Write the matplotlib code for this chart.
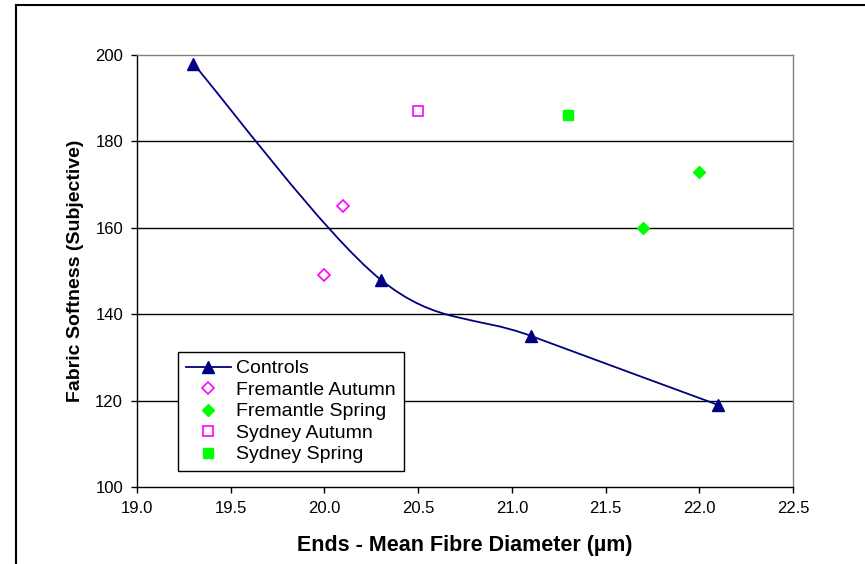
import matplotlib
matplotlib.use("Agg")
import matplotlib.pyplot as plt
from matplotlib.path import Path
from matplotlib.patches import PathPatch
from matplotlib.lines import Line2D
import numpy as np

plt.rcParams['font.family'] = ['Liberation Sans', 'DejaVu Sans']

# Data
controls_x = [19.3, 20.3, 21.1, 22.1]
controls_y = [198, 148, 135, 119]
fa_x = [20.0, 20.1]
fa_y = [149, 165]
fs_x = [21.7, 22.0]
fs_y = [160, 173]
sa_x = [20.5]
sa_y = [187]
ss_x = [21.3]
ss_y = [186]
x_ticks = [19.0, 19.5, 20.0, 20.5, 21.0, 21.5, 22.0, 22.5]
y_ticks = [100, 120, 140, 160, 180, 200]

navy = '#000080'
magenta = '#FF00FF'
green = '#00FF00'

W, H = 865, 564
fig = plt.figure(figsize=(W/100, H/100), dpi=100)
L, R, T, B = 137, 793, 55, 487
ax = fig.add_axes([L/W, 1-B/H, (R-L)/W, (B-T)/H])

# smoothed controls line (Excel-style Bezier)
pts = np.column_stack([controls_x, controls_y]).astype(float)
verts = [tuple(pts[0])]
codes = [Path.MOVETO]
n = len(pts)
for i in range(n-1):
    p0 = pts[i-1] if i > 0 else pts[i]
    p1 = pts[i]
    p2 = pts[i+1]
    p3 = pts[i+2] if i+2 < n else pts[i+1]
    c1 = p1 + (p2 - p0) / 6.0
    c2 = p2 - (p3 - p1) / 6.0
    verts += [tuple(c1), tuple(c2), tuple(p2)]
    codes += [Path.CURVE4]*3
ax.add_patch(PathPatch(Path(verts, codes), facecolor='none', edgecolor=navy, lw=1.3, zorder=3))
ax.plot(controls_x, controls_y, linestyle='none', marker='^', color=navy, ms=8, zorder=4)

ax.plot(fa_x, fa_y, linestyle='none', marker='D', mfc='white', mec=magenta, mew=1.2, ms=6, zorder=4)
ax.plot(fs_x, fs_y, linestyle='none', marker='D', color=green, ms=6, zorder=4)
ax.plot(sa_x, sa_y, linestyle='none', marker='s', mfc='white', mec=magenta, mew=1.2, ms=7, zorder=4)
ax.plot(ss_x, ss_y, linestyle='none', marker='s', color=green, ms=7, zorder=4)

ax.set_xlim(19.0, 22.5)
ax.set_ylim(100, 200)
ax.set_xticks(x_ticks)
ax.set_xticklabels([f"{v:.1f}" for v in x_ticks])
ax.set_yticks(y_ticks)
ax.set_yticklabels([str(v) for v in y_ticks])
ax.tick_params(direction='out', length=4, width=1, labelsize=12, colors='black')
ax.tick_params(axis='y', pad=6)
ax.tick_params(axis='x', pad=6)
for yv in y_ticks[1:-1]:
    ax.axhline(yv, color='black', lw=1, zorder=1)
ax.spines['left'].set_color('black')
ax.spines['bottom'].set_color('black')
ax.spines['top'].set_color('#808080')
ax.spines['right'].set_color('#808080')
for s in ax.spines.values():
    s.set_linewidth(1)

ax.set_xlabel('Ends - Mean Fibre Diameter (µm)', fontsize=15.5, fontweight='bold', labelpad=14)
ax.set_ylabel('Fabric Softness (Subjective)', fontsize=14, fontweight='bold', labelpad=8)

handles = [
    Line2D([], [], color=navy, marker='^', ms=8, lw=1.3),
    Line2D([], [], linestyle='none', marker='D', mfc='white', mec=magenta, mew=1.2, ms=6),
    Line2D([], [], linestyle='none', marker='D', color=green, ms=6),
    Line2D([], [], linestyle='none', marker='s', mfc='white', mec=magenta, mew=1.2, ms=7),
    Line2D([], [], linestyle='none', marker='s', color=green, ms=7),
]
labels = ['Controls', 'Fremantle Autumn', 'Fremantle Spring', 'Sydney Autumn', 'Sydney Spring']
leg = ax.legend(handles, labels, loc='upper left',
                bbox_to_anchor=((178-L)/(R-L), (B-352)/(B-T)),
                fontsize=14, frameon=True, fancybox=False, edgecolor='black',
                framealpha=1, borderpad=0.4, labelspacing=0.2, handlelength=2.3,
                handletextpad=0.3, borderaxespad=0)
leg.get_frame().set_linewidth(1)

# outer chart frame
fig.add_artist(Line2D([16/W, 1], [1-5/H, 1-5/H], color='black', lw=1.5, transform=fig.transFigure))
fig.add_artist(Line2D([16/W, 16/W], [0, 1-5/H], color='black', lw=1.5, transform=fig.transFigure))

fig.savefig('out.png', dpi=100)
